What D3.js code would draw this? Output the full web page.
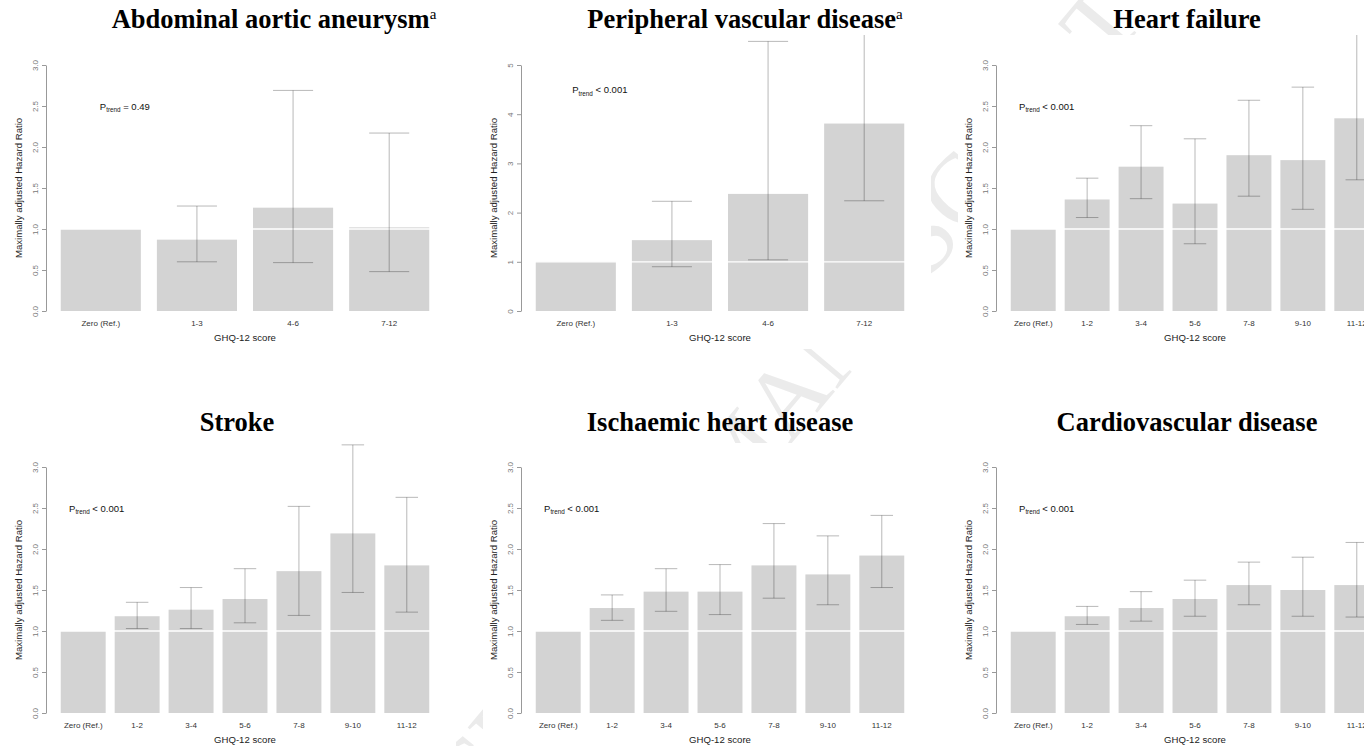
<!DOCTYPE html>
<html>
<head>
<meta charset="utf-8">
<script src="https://cdn.jsdelivr.net/npm/d3@7"></script>
<style>
  body { margin: 0; background: #fff; }
  text { font-family: "Liberation Sans", Arial, sans-serif; }
</style>
</head>
<body>
<div id="figure"></div>
<script>

// panel titles and categories
var titles = ["Abdominal aortic aneurysm", "Peripheral vascular disease", "Heart failure",
              "Stroke", "Ischaemic heart disease", "Cardiovascular disease"];
var titleSup = ["a", "a", "", "", "", ""];
var catsFour = ["Zero (Ref.)", "1-3", "4-6", "7-12"];
var catsSeven = ["Zero (Ref.)", "1-2", "3-4", "5-6", "7-8", "9-10", "11-12"];

// hazard ratios and 95% CI
var aaaHR = [1.00, 0.87, 1.26, 1.02];
var aaaLo = [null, 0.60, 0.59, 0.48];
var aaaHi = [null, 1.28, 2.69, 2.17];

var pvdHR = [1.00, 1.44, 2.38, 3.81];
var pvdLo = [null, 0.90, 1.04, 2.24];
var pvdHi = [null, 2.23, 5.48, 6.60];

var hfHR = [1.00, 1.36, 1.76, 1.31, 1.90, 1.84, 2.35];
var hfLo = [null, 1.14, 1.37, 0.82, 1.40, 1.24, 1.60];
var hfHi = [null, 1.62, 2.26, 2.10, 2.57, 2.73, 3.45];

var strokeHR = [1.00, 1.18, 1.26, 1.39, 1.73, 2.19, 1.80];
var strokeLo = [null, 1.03, 1.03, 1.10, 1.19, 1.47, 1.23];
var strokeHi = [null, 1.35, 1.53, 1.76, 2.52, 3.27, 2.63];

var ihdHR = [1.00, 1.28, 1.48, 1.48, 1.80, 1.69, 1.92];
var ihdLo = [null, 1.13, 1.24, 1.20, 1.40, 1.32, 1.53];
var ihdHi = [null, 1.44, 1.76, 1.81, 2.31, 2.16, 2.41];

var cvdHR = [1.00, 1.18, 1.28, 1.39, 1.56, 1.50, 1.56];
var cvdLo = [null, 1.08, 1.12, 1.18, 1.32, 1.18, 1.17];
var cvdHi = [null, 1.30, 1.48, 1.62, 1.84, 1.90, 2.08];

var pTrend = ["= 0.49", "< 0.001", "< 0.001", "< 0.001", "< 0.001", "< 0.001"];
var pTrendY = [2.5, 4.5, 2.5, 2.5, 2.5, 2.5];
var yMax = [3, 5, 3, 3, 3, 3];

var panels = [
  {cats: catsFour,  hr: aaaHR,    lo: aaaLo,    hi: aaaHi},
  {cats: catsFour,  hr: pvdHR,    lo: pvdLo,    hi: pvdHi},
  {cats: catsSeven, hr: hfHR,     lo: hfLo,     hi: hfHi},
  {cats: catsSeven, hr: strokeHR, lo: strokeLo, hi: strokeHi},
  {cats: catsSeven, hr: ihdHR,    lo: ihdLo,    hi: ihdHi},
  {cats: catsSeven, hr: cvdHR,    lo: cvdLo,    hi: cvdHi}
];

// layout
var W = 1364, H = 746;
var colX = [46, 521, 996];        // y axis position of each column
var rowZero = [311, 713];         // pixel of HR = 0 for each row
var imgTop = [35, 443], imgBottom = [349, 746];
var titleX = [274, 745, 1187, 237, 720, 1187];
var titleY = [28, 431];
var plotW = 398, plotH = 246;

var svg = d3.select("#figure")
  .append("svg")
    .attr("width", W)
    .attr("height", H);

// faint journal watermark, mostly hidden behind the panels
svg.append("text")
    .attr("transform", "translate(765,475) rotate(-50)")
    .attr("text-anchor", "middle")
    .style("font-family", "'Liberation Serif', 'Times New Roman', serif")
    .style("font-size", "100px")
    .style("fill", "#ebebeb")
    .text("ACCEPTED MANUSCRIPT");

panels.forEach(function(p, i) {
  var col = i % 3, row = Math.floor(i / 3);
  var n = p.cats.length;
  var span = n * 1.2 - 0.2;

  var x = d3.scaleLinear()
    .domain([0.2 - 0.04 * span, n * 1.2 + 0.04 * span])
    .range([0, plotW]);
  var y = d3.scaleLinear()
    .domain([0, yMax[i]])
    .range([plotH, 0]);

  var top = imgTop[row] - (rowZero[row] - plotH);
  var g = svg.append("g")
    .attr("transform", "translate(" + colX[col] + "," + (rowZero[row] - plotH) + ")");

  // white panel background (covers the watermark)
  g.append("rect")
    .attr("x", -38).attr("y", top)
    .attr("width", plotW + 50)
    .attr("height", imgBottom[row] - imgTop[row])
    .style("fill", "#fff");

  var gid = "clip" + i;
  g.append("clipPath").attr("id", gid)
    .append("rect")
      .attr("x", -38).attr("y", top)
      .attr("width", plotW + 50)
      .attr("height", imgBottom[row] - imgTop[row]);
  var plot = g.append("g").attr("clip-path", "url(#" + gid + ")");

  // bars
  plot.selectAll("rect.bar")
    .data(p.hr)
    .enter().append("rect")
      .attr("class", "bar")
      .attr("x", function(d, k) { return x(0.2 + 1.2 * k); })
      .attr("width", x(1) - x(0))
      .attr("y", function(d) { return y(d); })
      .attr("height", function(d) { return y(0) - y(d); })
      .style("fill", "#d3d3d3");

  // reference line at HR = 1
  plot.append("line")
    .attr("x1", 0).attr("x2", plotW)
    .attr("y1", y(1)).attr("y2", y(1))
    .style("stroke", "#fff")
    .style("stroke-width", 1.3);

  // error bars
  var eb = [];
  p.hr.forEach(function(d, k) {
    if (p.lo[k] != null) eb.push({c: 0.7 + 1.2 * k, lo: p.lo[k], hi: p.hi[k]});
  });
  var ebg = plot.selectAll("g.eb").data(eb).enter().append("g")
    .style("stroke", "#000")
    .style("stroke-opacity", 0.28)
    .style("stroke-width", 1);
  ebg.append("line")
    .attr("x1", function(d) { return x(d.c); })
    .attr("x2", function(d) { return x(d.c); })
    .attr("y1", function(d) { return y(d.lo); })
    .attr("y2", function(d) { return y(d.hi); });
  ebg.append("line")
    .attr("x1", function(d) { return x(d.c - 0.25); })
    .attr("x2", function(d) { return x(d.c + 0.25); })
    .attr("y1", function(d) { return y(d.lo); })
    .attr("y2", function(d) { return y(d.lo); });
  ebg.append("line")
    .attr("x1", function(d) { return x(d.c - 0.25); })
    .attr("x2", function(d) { return x(d.c + 0.25); })
    .attr("y1", function(d) { return y(d.hi); })
    .attr("y2", function(d) { return y(d.hi); });

  // y axis
  var step = yMax[i] > 3 ? 1 : 0.5;
  var yAxis = g.append("g")
    .call(d3.axisLeft(y)
      .tickValues(d3.range(0, yMax[i] + 0.001, step))
      .tickFormat(d3.format(step < 1 ? ".1f" : "d"))
      .tickSize(4)
      .tickSizeOuter(0));
  yAxis.select(".domain").style("stroke", "#999");
  yAxis.selectAll(".tick line").style("stroke", "#999");
  yAxis.selectAll(".tick text")
    .attr("transform", "rotate(-90)")
    .attr("x", 0)
    .attr("y", -8)
    .attr("dy", 0)
    .attr("text-anchor", "middle")
    .style("font-size", "8px")
    .style("fill", "#777");

  // category labels
  g.selectAll("text.cat")
    .data(p.cats)
    .enter().append("text")
      .attr("class", "cat")
      .attr("x", function(d, k) { return x(0.7 + 1.2 * k); })
      .attr("y", plotH + 14.5)
      .attr("text-anchor", "middle")
      .style("font-size", "8px")
      .style("fill", "#333")
      .text(function(d) { return d; });

  g.append("text")
    .attr("x", plotW / 2)
    .attr("y", plotH + 29.5)
    .attr("text-anchor", "middle")
    .style("font-size", "9.6px")
    .style("fill", "#222")
    .text("GHQ-12 score");

  g.append("text")
    .attr("transform", "translate(-24.5," + (plotH / 2) + ") rotate(-90)")
    .attr("text-anchor", "middle")
    .style("font-size", "9.6px")
    .style("fill", "#222")
    .text("Maximally adjusted Hazard Ratio");

  // P for trend
  var pt = g.append("text")
    .attr("x", x(1))
    .attr("y", y(pTrendY[i]) + 3.5)
    .attr("text-anchor", "middle")
    .style("font-size", "9.5px")
    .style("fill", "#111");
  pt.append("tspan").text("P");
  pt.append("tspan").attr("dy", 2.5).style("font-size", "6.3px").text("trend");
  pt.append("tspan").attr("dy", -2.5).text(" " + pTrend[i]);

  // panel title
  var tt = svg.append("text")
    .attr("x", titleX[i])
    .attr("y", titleY[row])
    .attr("text-anchor", "middle")
    .style("font-family", "'Liberation Serif', 'Times New Roman', serif")
    .style("font-weight", "bold")
    .style("font-size", "26.5px")
    .style("fill", "#000");
  tt.append("tspan").style("font-family", "'Liberation Serif', serif").text(titles[i]);
  if (titleSup[i]) {
    tt.append("tspan")
      .attr("dy", -9)
      .style("font-family", "'Liberation Serif', serif")
      .style("font-weight", "normal")
      .style("font-size", "15px")
      .text(titleSup[i]);
  }
});

</script>
</body>
</html>
